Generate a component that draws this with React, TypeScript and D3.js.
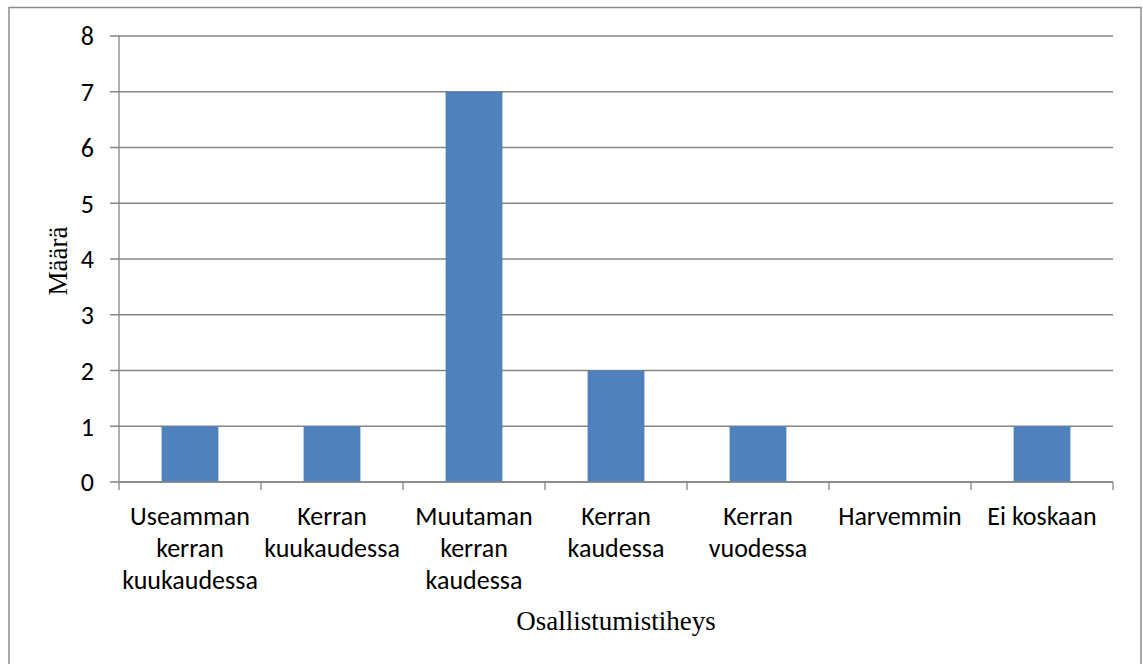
import React from "react";
import * as d3 from "d3";

const categories = [
  "Useamman\nkerran\nkuukaudessa",
  "Kerran\nkuukaudessa",
  "Muutaman\nkerran\nkaudessa",
  "Kerran\nkaudessa",
  "Kerran\nvuodessa",
  "Harvemmin",
  "Ei koskaan",
];
const values = [1, 1, 7, 2, 1, 0, 1];
const yTicks = [0, 1, 2, 3, 4, 5, 6, 7, 8];
const yTitle = "Määrä";
const xTitle = "Osallistumistiheys";

const W = 1143;
const H = 664;
const left = 119;
const right = 1113;
const top = 36;
const bottom = 482;

const sansFont = "Carlito, Calibri, Lato, 'Liberation Sans', sans-serif";
const serifFont = "'Liberation Serif', 'Times New Roman', serif";
const gridColor = "#868686";
const barColor = "#4F81BD";

export default function App() {
  const x = d3
    .scaleBand<string>()
    .domain(categories)
    .range([left, right])
    .paddingInner(0.6)
    .paddingOuter(0.3);
  const y = d3.scaleLinear().domain([0, 8]).range([bottom, top]);
  const step = x.step();
  const boundaries = d3.range(categories.length + 1).map((i) => left + i * step);

  return (
    <div style={{ position: "absolute", left: 0, top: 0, width: W, height: H, background: "#fff" }}>
      <svg width={W} height={H} style={{ display: "block" }}>
        <rect x={9} y={7.5} width={1132} height={700} fill="#fff" stroke="#8c8c8c" strokeWidth={1.5} />
        {yTicks.map((t) => (
          <g key={t}>
            <line x1={left - 9} x2={right} y1={y(t)} y2={y(t)} stroke={gridColor} strokeWidth={1.3} />
            <text
              x={94}
              y={y(t)}
              dy="0.36em"
              textAnchor="end"
              fontFamily={sansFont}
              fontSize={26}
              fill="#000"
            >
              {t}
            </text>
          </g>
        ))}
        {categories.map((c, i) => (
          <rect
            key={c}
            x={x(c)}
            y={y(values[i])}
            width={x.bandwidth()}
            height={y(0) - y(values[i])}
            fill={barColor}
          />
        ))}
        <line x1={left} x2={left} y1={top} y2={bottom} stroke={gridColor} strokeWidth={1.3} />
        <line x1={left} x2={right} y1={bottom} y2={bottom} stroke={gridColor} strokeWidth={1.3} />
        {boundaries.map((b, i) => (
          <line key={i} x1={b} x2={b} y1={bottom} y2={bottom + 8} stroke={gridColor} strokeWidth={1.3} />
        ))}
        {categories.map((c) => {
          const cx = (x(c) as number) + x.bandwidth() / 2;
          return (
            <text key={c} textAnchor="middle" fontFamily={sansFont} fontSize={26} fill="#000">
              {c.split("\n").map((line, j) => (
                <tspan key={j} x={cx} y={525 + j * 32}>
                  {line}
                </tspan>
              ))}
            </text>
          );
        })}
        <text
          x={(left + right) / 2}
          y={630}
          textAnchor="middle"
          fontFamily={serifFont}
          fontSize={27}
          fill="#000"
        >
          {xTitle}
        </text>
        <text
          transform={`translate(67, ${(top + bottom) / 2 + 2}) rotate(-90)`}
          textAnchor="middle"
          fontFamily={serifFont}
          fontSize={27}
          fill="#000"
        >
          {yTitle}
        </text>
      </svg>
    </div>
  );
}
